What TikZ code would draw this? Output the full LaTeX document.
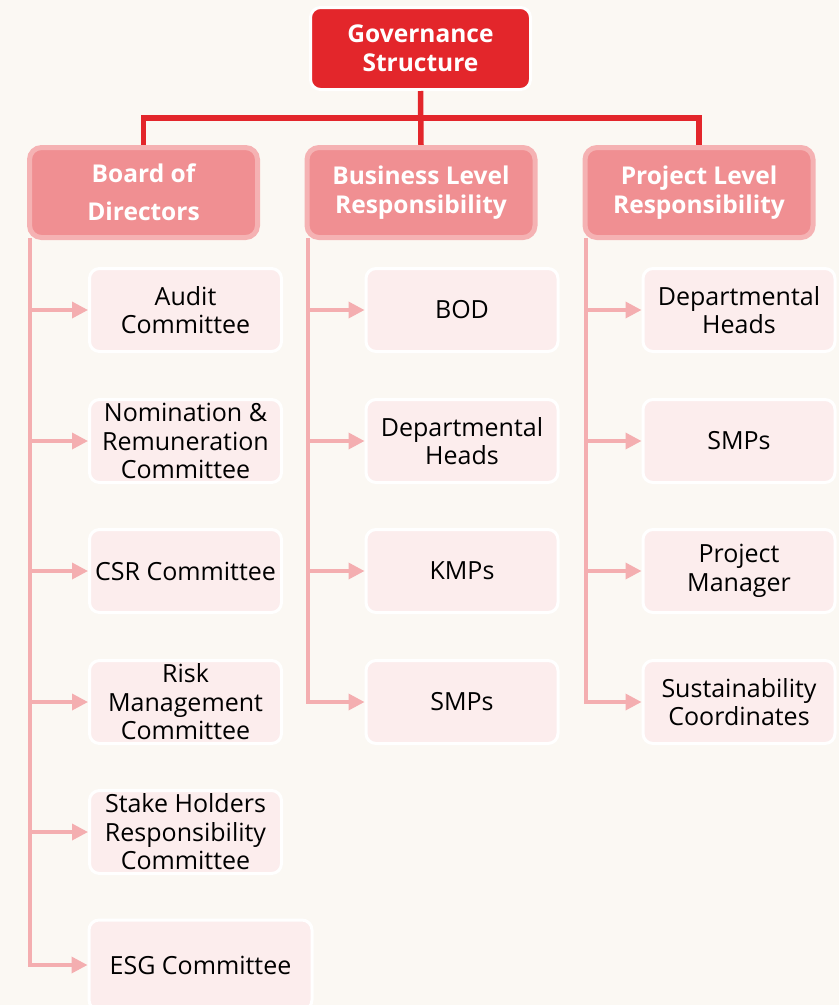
\documentclass[tikz,border=0pt]{standalone}
\usepackage{fontspec}
\setmainfont{Open Sans}
\usetikzlibrary{arrows.meta}
\definecolor{bgc}{HTML}{FBF8F3}
\definecolor{topred}{HTML}{E3262B}
\definecolor{lvfill}{HTML}{F08F92}
\definecolor{lvborder}{HTML}{F5B2B3}
\definecolor{chfill}{HTML}{FCEDED}
\definecolor{linec}{HTML}{F4AEB0}
\tikzset{
  x=1pt, y=-1pt,
  topbox/.style={draw=white, line width=3pt, fill=topred, rounded corners=10pt,
    minimum width=220pt, minimum height=82pt, text=white, align=center,
    font=\fontsize{24.5}{29}\selectfont\bfseries, inner sep=0pt},
  lvbox/.style={draw=lvborder, line width=5pt, fill=lvfill, rounded corners=12pt,
    minimum width=228pt, minimum height=90pt, text=white, align=center,
    font=\fontsize{24.5}{29}\selectfont\bfseries, inner sep=0pt},
  chbox/.style={draw=white, line width=3pt, fill=chfill, rounded corners=10pt,
    minimum width=192pt, minimum height=83pt, text=black, align=center,
    font=\fontsize{25}{28.5}\selectfont, inner sep=0pt},
  redline/.style={draw=topred, line width=5.5pt},
  arrline/.style={draw=linec, line width=3.5pt, -{Triangle[length=16pt,width=16pt]}},
}
\begin{document}
\begin{tikzpicture}
\fill[bgc] (0,0) rectangle (839,1005);
\useasboundingbox (0,0) rectangle (839,1005);
\coordinate (j) at (421,118);
\coordinate (bl) at (30,238);
\coordinate (bz) at (308,238);
\coordinate (pl) at (586,238);
% nodes
\node[topbox] (gov) at (420.5,48.5) {Governance\\Structure};
\draw[redline] (gov.south) -- (421,145);
\draw[redline] (143.5,145) |- (j) -| (699,145);
\node[lvbox, font=\fontsize{24.5}{38}\selectfont\bfseries] (board) at (143.5,192.5) {Board of\\Directors};
\node[lvbox] (biz) at (421,192.5) {Business Level\\Responsibility};
\node[lvbox] (proj) at (699,192.5) {Project Level\\Responsibility};

\node[chbox] (a1) at (185.5,310) {Audit\\Committee};
\node[chbox] (a2) at (185.5,441) {Nomination \&\\Remuneration\\Committee};
\node[chbox] (a3) at (185.5,571) {CSR Committee};
\node[chbox] (a4) at (185.5,702) {Risk\\Management\\Committee};
\node[chbox] (a5) at (185.5,832) {Stake Holders\\Responsibility\\Committee};
\node[chbox, minimum width=223pt, minimum height=90pt] (a6) at (200.5,965) {ESG Committee};

\node[chbox] (b1) at (462,310) {BOD};
\node[chbox] (b2) at (462,441) {Departmental\\Heads};
\node[chbox] (b3) at (462,571) {KMPs};
\node[chbox] (b4) at (462,702) {SMPs};

\node[chbox] (c1) at (739,310) {Departmental\\Heads};
\node[chbox] (c2) at (739,441) {SMPs};
\node[chbox] (c3) at (739,571) {Project\\Manager};
\node[chbox] (c4) at (739,702) {Sustainability\\Coordinates};

\foreach \n in {a1,a2,a3,a4,a5,a6} \draw[arrline] (bl) |- (\n.west);
\foreach \n in {b1,b2,b3,b4} \draw[arrline] (bz) |- (\n.west);
\foreach \n in {c1,c2,c3,c4} \draw[arrline] (pl) |- (\n.west);
\end{tikzpicture}
\end{document}
